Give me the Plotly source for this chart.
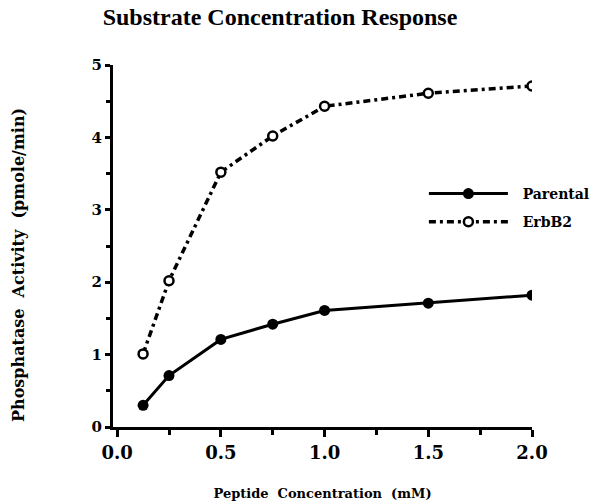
import plotly.graph_objects as go

concentration = [0.125, 0.25, 0.5, 0.75, 1.0, 1.5, 2.0]
parental = [0.3, 0.71, 1.21, 1.42, 1.61, 1.71, 1.82]
erbb2 = [1.01, 2.02, 3.52, 4.02, 4.43, 4.61, 4.71]

x_ticks = [0.0, 0.5, 1.0, 1.5, 2.0]
x_tick_labels = ["0.0", "0.5", "1.0", "1.5", "2.0"]
y_ticks = [0, 1, 2, 3, 4, 5]

TITLE_FONT = "Liberation Serif"
FONT = "DejaVu Serif"
NB = "\u00a0"

fig = go.Figure()
fig.add_trace(go.Scatter(
    x=concentration, y=parental, name=NB * 2 + "Parental", mode="lines+markers",
    legendgroup="p",
    line=dict(color="black", width=3),
    marker=dict(symbol="circle", size=11, color="black"),
))
fig.add_trace(go.Scatter(
    x=concentration, y=erbb2, name=NB * 2 + "ErbB2", mode="lines+markers",
    legendgroup="e",
    line=dict(color="black", width=3.5, dash="7px,4px,3px,4px"),
    marker=dict(symbol="circle", size=9, color="white", line=dict(color="black", width=2.5)),
))

fig.update_layout(
    width=598, height=501,
    margin=dict(l=113, r=66, t=65, b=74, autoexpand=False),
    paper_bgcolor="white", plot_bgcolor="white",
    font=dict(family=FONT, color="black"),
    title=dict(text="Substrate Concentration Response", x=280/598, xanchor="center",
               y=1 - 17/501, yanchor="middle", yref="container",
               font=dict(family=TITLE_FONT, size=24, weight="bold")),
    showlegend=True,
    legend=dict(x=0.742, y=0.605, xanchor="left", yanchor="middle",
                font=dict(family=FONT, size=14, weight="bold"),
                itemwidth=79, bgcolor="rgba(0,0,0,0)", tracegroupgap=7),
    xaxis=dict(range=[-0.02, 2.0], tickvals=x_ticks, ticktext=x_tick_labels, automargin=False,
               showgrid=False, zeroline=False, showline=True, linecolor="black", linewidth=3,
               ticks="outside", ticklen=7, tickwidth=3, tickcolor="black",
               tickfont=dict(family=FONT, size=18, weight="bold"),
               minor=dict(dtick=0.25, tick0=0, ticks="outside", ticklen=5, tickwidth=3, tickcolor="black"),
               title=dict(text="Peptide" + NB * 2 + "Concentration" + NB * 2 + "(mM)", standoff=28,
                          font=dict(family=FONT, size=13, weight="bold"))),
    yaxis=dict(range=[0, 5], tickvals=y_ticks, automargin=False,
               showgrid=False, zeroline=False, showline=True, linecolor="black", linewidth=3,
               ticks="outside", ticklen=5, tickwidth=3, tickcolor="black",
               tickfont=dict(family=FONT, size=15, weight="bold"),
               minor=dict(dtick=0.5, tick0=0, ticks="outside", ticklen=4, tickwidth=3, tickcolor="black")),
    annotations=[dict(text="Phosphatase" + NB * 2 + "Activity" + NB * 2 + "(pmole/min)",
                      textangle=-90, xref="paper", yref="paper",
                      x=-95 / 419, y=(427 - 265) / 362, xanchor="center", yanchor="middle",
                      showarrow=False, font=dict(family=FONT, size=16, weight="bold"))],
)

fig.write_html("out.html", config={"displayModeBar": False},
               post_script="document.body.style.margin='0';")
